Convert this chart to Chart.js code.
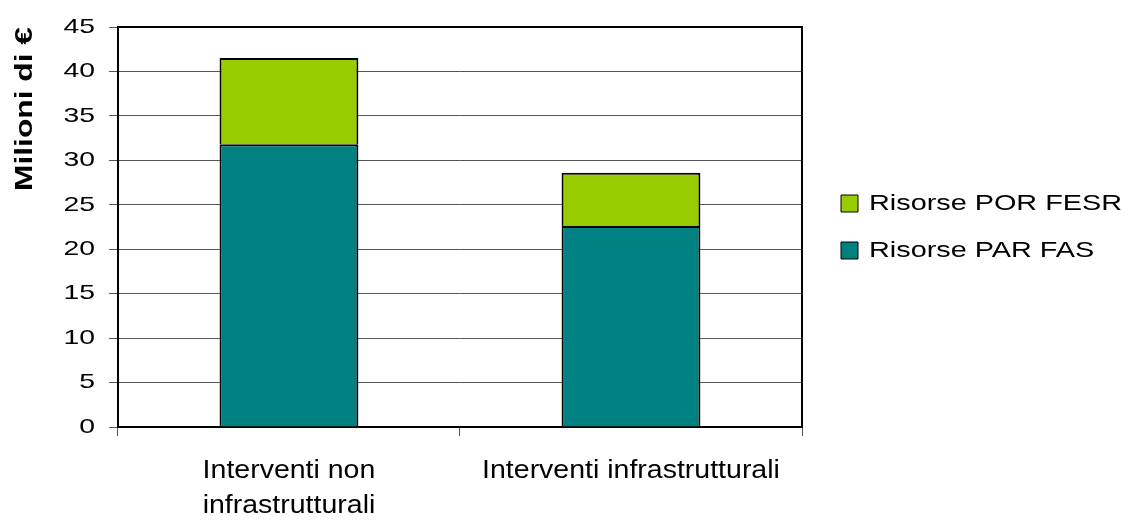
<!DOCTYPE html>
<html lang="it">
<head>
<meta charset="utf-8">
<title>Risorse per tipologia di intervento</title>
<script src="https://cdn.jsdelivr.net/npm/chart.js@4.4.1/dist/chart.umd.min.js"></script>
<style>
  html, body { margin: 0; padding: 0; background: #fff; }
  #contenitore { width: 1129px; height: 520px; position: relative; }
</style>
</head>
<body>
<div id="contenitore"><canvas id="grafico"></canvas></div>
<script>
const categorie = [['Interventi non', 'infrastrutturali'], 'Interventi infrastrutturali'];
const risorseParFas = [31.8, 22.6];
const risorsePorFesr = [9.7, 6.0];
const asseYMin = 0;
const asseYMax = 45;
const asseYPasso = 5;

const FONT = 'Liberation Sans, Arial, sans-serif';
const larghezzaLegenda = 327;
const scostamentoLegenda = 14;

// stira in orizzontale il testo disegnato da un componente (etichette più larghe)
function allarga(oggetto, metodo, fattore) {
    if (!oggetto || oggetto['_largo_' + metodo]) return;
    const originale = oggetto[metodo];
    oggetto[metodo] = function (...args) {
        const ctx = this.ctx;
        const fillNormale = CanvasRenderingContext2D.prototype.fillText;
        ctx.fillText = function (testo, x, y) {
            this.save();
            this.translate(x, y);
            this.scale(fattore, 1);
            fillNormale.call(this, testo, 0, 0);
            this.restore();
        };
        try {
            originale.apply(this, args);
        } finally {
            delete ctx.fillText;
        }
    };
    oggetto['_largo_' + metodo] = true;
}

const testoLargo = {
    id: 'testoLargo',
    beforeDraw(chart) {
        allarga(chart.scales.y, 'drawLabels', 1.35);
        allarga(chart.scales.y, 'drawTitle', 1.38);
        allarga(chart.scales.x, 'drawLabels', 1.14);
        allarga(chart.legend, 'draw', 1.31);
    }
};

// legenda più larga, staccata dal grafico e centrata sull'area dei dati
const posizioneLegenda = {
    id: 'posizioneLegenda',
    afterInit(chart) {
        const legenda = chart.legend;
        const fit = legenda.fit;
        legenda.fit = function () {
            fit.call(this);
            this.width = larghezzaLegenda;
        };
        const draw = legenda.draw;
        legenda.draw = function () {
            const { left, top, bottom } = this;
            this.left = left + scostamentoLegenda;
            this.top = chart.chartArea.top;
            this.bottom = chart.chartArea.bottom;
            draw.call(this);
            Object.assign(this, { left, top, bottom });
        };
    }
};

// bordo nero in alto e a destra dell'area del grafico
const cornice = {
    id: 'cornice',
    afterDatasetsDraw(chart) {
        const { ctx, chartArea: a } = chart;
        ctx.save();
        ctx.strokeStyle = '#000';
        ctx.lineWidth = 2;
        ctx.beginPath();
        ctx.moveTo(a.left, a.top);
        ctx.lineTo(a.right, a.top);
        ctx.lineTo(a.right, a.bottom);
        ctx.stroke();
        ctx.restore();
    }
};

new Chart(document.getElementById('grafico'), {
    type: 'bar',
    data: {
        labels: categorie,
        datasets: [
            { label: 'Risorse PAR FAS', data: risorseParFas, backgroundColor: '#008080', borderColor: '#000', borderWidth: 2 },
            { label: 'Risorse POR FESR', data: risorsePorFesr, backgroundColor: '#99CC00', borderColor: '#000', borderWidth: 2 }
        ]
    },
    options: {
        responsive: true,
        maintainAspectRatio: false,
        animation: false,
        layout: { padding: { left: 0, top: 27, right: 0, bottom: -22 } },
        datasets: { bar: { categoryPercentage: 1, barPercentage: 0.406 } },
        scales: {
            x: {
                stacked: true,
                grid: { display: true, drawOnChartArea: false, tickLength: 9, color: '#555' },
                border: { color: '#000', width: 2 },
                ticks: {
                    color: '#000', padding: 18, maxRotation: 0, autoSkip: false,
                    font: { family: FONT, size: 25, lineHeight: 1.4 }
                }
            },
            y: {
                stacked: true,
                min: asseYMin,
                max: asseYMax,
                ticks: { stepSize: asseYPasso, color: '#000', padding: 14, font: { family: FONT, size: 21 } },
                grid: { color: '#555', tickLength: 9 },
                border: { color: '#000', width: 2 },
                title: {
                    display: true,
                    text: 'Milioni di €',
                    align: 'end',
                    color: '#000',
                    font: { family: FONT, size: 23, weight: 'bold' },
                    padding: { top: 11.5, bottom: 18.5 }
                }
            }
        },
        plugins: {
            legend: {
                position: 'right',
                reverse: true,
                labels: {
                    boxWidth: 17,
                    boxHeight: 17,
                    padding: 25,
                    color: '#000',
                    font: { family: FONT, size: 22 },
                    generateLabels(chart) {
                        return Chart.defaults.plugins.legend.labels.generateLabels(chart)
                            .map(voce => ({ ...voce, lineWidth: 1 }));
                    }
                }
            },
            tooltip: { enabled: false }
        }
    },
    plugins: [posizioneLegenda, testoLargo, cornice]
});
</script>
</body>
</html>
